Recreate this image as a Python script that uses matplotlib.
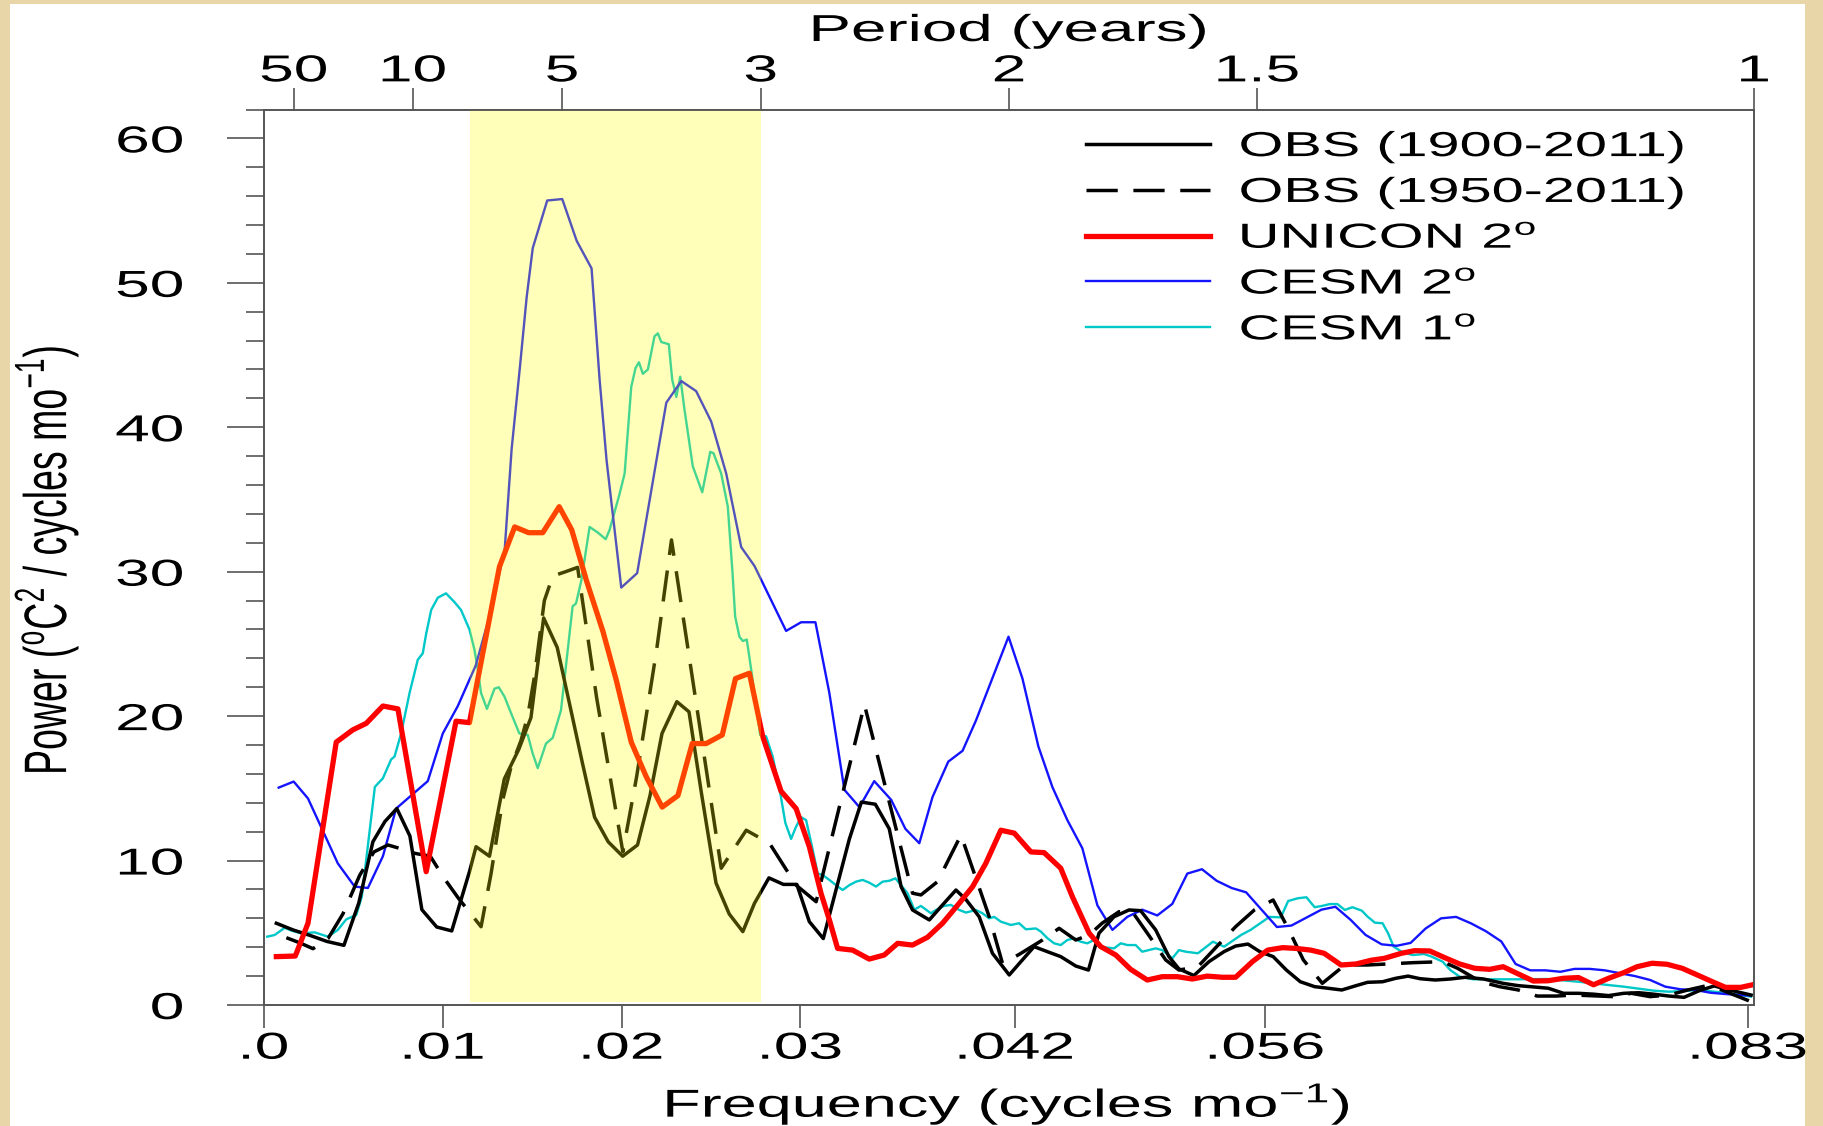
import matplotlib
matplotlib.use("Agg")
import matplotlib.pyplot as plt
import numpy as np
from matplotlib.patches import Rectangle
from matplotlib.patheffects import AbstractPathEffect
from matplotlib.transforms import Affine2D

plt.rcParams["font.family"] = ["Liberation Sans", "DejaVu Sans"]
plt.rcParams["mathtext.fontset"] = "custom"
plt.rcParams["mathtext.rm"] = "Liberation Sans"
plt.rcParams["mathtext.it"] = "Liberation Sans:italic"
plt.rcParams["mathtext.bf"] = "Liberation Sans:bold"

# --- data (frequency in cycles/month, power in degC^2 / cycles mo^-1) ---
obs1900_freq = [
    0.00069, 0.00162, 0.00257, 0.00352, 0.00447, 0.00530, 0.00609, 0.00676, 0.00743, 0.00816,
    0.00883, 0.00966, 0.01050, 0.01149, 0.01186, 0.01261, 0.01344, 0.01425, 0.01493, 0.01564,
    0.01640, 0.01715, 0.01780, 0.01849, 0.01925, 0.02006, 0.02089, 0.02159, 0.02226, 0.02309,
    0.02377, 0.02447, 0.02528, 0.02602, 0.02678, 0.02743, 0.02824, 0.02905, 0.02980, 0.03050,
    0.03128, 0.03199, 0.03274, 0.03341, 0.03419, 0.03497, 0.03563, 0.03627, 0.03721, 0.03795,
    0.03870, 0.03926, 0.04000, 0.04074, 0.04168, 0.04233, 0.04307, 0.04382, 0.04456, 0.04540,
    0.04611, 0.04670, 0.04754, 0.04838, 0.04903, 0.04987, 0.05061, 0.05117, 0.05201, 0.05285,
    0.05370, 0.05434, 0.05503, 0.05570, 0.05644, 0.05718, 0.05796, 0.05876, 0.05950, 0.06028,
    0.06108, 0.06172, 0.06256, 0.06330, 0.06399, 0.06466, 0.06551, 0.06635, 0.06720, 0.06821,
    0.06930, 0.07015, 0.07101, 0.07183, 0.07268, 0.07352, 0.07436, 0.07520, 0.07605, 0.07689,
    0.07771, 0.07858, 0.07942, 0.08027, 0.08111, 0.08196, 0.08317,
]
obs1900_pow = [
    5.66, 5.2, 4.82, 4.4, 4.13, 7.06, 11.3, 12.7, 13.6, 11.7,
    6.6, 5.4, 5.13, 9.23, 10.96, 10.3, 15.65, 17.7, 19.9, 26.8,
    24.75, 20.5, 16.8, 13.0, 11.3, 10.3, 11.08, 14.5, 18.8, 21.0,
    20.3, 14.63, 8.45, 6.3, 5.08, 7.04, 8.8, 8.35, 8.35, 5.77,
    4.6, 7.96, 11.5, 14.05, 13.9, 12.2, 8.2, 6.58, 5.89, 6.93,
    7.96, 7.3, 6.11, 3.58, 2.08, 3.0, 4.04, 3.69, 3.35, 2.7,
    2.42, 4.97, 6.11, 6.58, 6.53, 5.2, 3.35, 2.5, 2.04, 3.0,
    3.7, 4.08, 4.22, 3.69, 3.35, 2.42, 1.61, 1.27, 1.16, 1.04,
    1.34, 1.57, 1.61, 1.85, 2.0, 1.82, 1.73, 1.8, 1.92, 1.8,
    1.5, 1.34, 1.25, 1.16, 0.81, 0.81, 0.75, 0.65, 0.81, 0.85,
    0.75, 0.62, 0.53, 0.99, 1.32, 1.04, 0.69,
]

obs1950_freq = [
    0.00125, 0.00201, 0.00274, 0.00358, 0.00441, 0.00536, 0.00615, 0.00693, 0.00771, 0.00844,
    0.00930, 0.01006, 0.01087, 0.01151, 0.01214, 0.01270, 0.01335, 0.01382, 0.01437, 0.01475,
    0.01512, 0.01568, 0.01615, 0.01687, 0.01754, 0.01860, 0.02007, 0.02084, 0.02196, 0.02279,
    0.02557, 0.02697, 0.02827, 0.02976, 0.03088, 0.03358, 0.03627, 0.03674, 0.03767, 0.03898,
    0.03982, 0.04056, 0.04130, 0.04223, 0.04354, 0.04447, 0.04540, 0.04615, 0.04687, 0.04782,
    0.04856, 0.04950, 0.05043, 0.05117, 0.05223, 0.05328, 0.05434, 0.05539, 0.05644, 0.05728,
    0.05813, 0.05919, 0.06045, 0.06172, 0.06425, 0.06592, 0.06676, 0.06804, 0.06910, 0.07015,
    0.07120, 0.07226, 0.07331, 0.07542, 0.07647, 0.07752, 0.07858, 0.07963, 0.08069, 0.08153,
    0.08317,
]
obs1950_pow = [
    4.66, 4.3, 3.9, 4.6, 6.3, 9.0, 10.6, 11.08, 10.8, 10.5,
    10.3, 8.8, 7.4, 6.4, 5.42, 9.1, 14.2, 16.5, 18.3, 20.0,
    22.7, 28.0, 29.7, 30.0, 30.3, 21.3, 10.6, 15.8, 24.6, 32.2,
    9.47, 12.1, 11.2, 8.3, 7.15, 20.8, 7.74, 7.62, 8.54, 11.77,
    8.77, 6.11, 2.89, 3.5, 4.5, 5.31, 4.5, 4.85, 5.66, 6.46,
    6.46, 4.8, 3.12, 2.42, 2.65, 4.04, 5.42, 6.58, 7.27, 5.3,
    3.12, 1.5, 2.77, 2.77, 2.93, 3.0, 2.54, 1.61, 1.27, 1.04,
    0.62, 0.62, 0.69, 0.58, 0.81, 0.58, 0.69, 1.04, 1.34, 1.04,
    0.23,
]

unicon_freq = [
    0.00069, 0.00175, 0.00246, 0.00404, 0.00497, 0.00572, 0.00665, 0.00749, 0.00907, 0.01074,
    0.01149, 0.01317, 0.01402, 0.01480, 0.01559, 0.01651, 0.01721, 0.01803, 0.01896, 0.01970,
    0.02054, 0.02138, 0.02227, 0.02315, 0.02395, 0.02473, 0.02563, 0.02637, 0.02715, 0.02789,
    0.02892, 0.02976, 0.03050, 0.03116, 0.03162, 0.03208, 0.03292, 0.03385, 0.03469, 0.03544,
    0.03627, 0.03711, 0.03795, 0.03888, 0.03963, 0.04037, 0.04121, 0.04196, 0.04289, 0.04363,
    0.04456, 0.04521, 0.04615, 0.04680, 0.04764, 0.04847, 0.04940, 0.05024, 0.05108, 0.05192,
    0.05275, 0.05360, 0.05434, 0.05528, 0.05613, 0.05697, 0.05771, 0.05855, 0.05929, 0.06024,
    0.06108, 0.06193, 0.06266, 0.06361, 0.06435, 0.06520, 0.06603, 0.06687, 0.06772, 0.06856,
    0.06930, 0.07015, 0.07099, 0.07183, 0.07268, 0.07352, 0.07436, 0.07520, 0.07605, 0.07679,
    0.07763, 0.07847, 0.07932, 0.08016, 0.08101, 0.08174, 0.08259, 0.08318,
]
unicon_pow = [
    3.35, 3.39, 5.66, 18.2, 19.05, 19.5, 20.7, 20.5, 9.23, 19.65,
    19.55, 30.35, 33.1, 32.7, 32.7, 34.5, 32.9, 29.4, 25.85, 22.5,
    18.2, 15.8, 13.7, 14.5, 18.1, 18.1, 18.7, 22.6, 22.97, 18.6,
    14.8, 13.6, 10.96, 7.7, 5.9, 3.92, 3.8, 3.18, 3.46, 4.27,
    4.15, 4.69, 5.66, 7.04, 8.19, 9.81, 12.1, 11.9, 10.6, 10.55,
    9.47, 7.5, 4.97, 4.04, 3.46, 2.47, 1.73, 1.96, 1.96, 1.8,
    2.0, 1.92, 1.92, 3.0, 3.8, 3.97, 3.92, 3.8, 3.58, 2.77,
    2.84, 3.1, 3.23, 3.58, 3.76, 3.74, 3.28, 2.84, 2.54, 2.47,
    2.65, 2.15, 1.66, 1.68, 1.85, 1.9, 1.4, 1.85, 2.24, 2.65,
    2.89, 2.82, 2.54, 2.08, 1.61, 1.22, 1.22, 1.38,
]

cesm2_freq = [
    0.00082, 0.00166, 0.00246, 0.00413, 0.00507, 0.00581, 0.00665, 0.00739, 0.00916, 0.01000,
    0.01084, 0.01184, 0.01263, 0.01346, 0.01385, 0.01430, 0.01469, 0.01503, 0.01584, 0.01668,
    0.01749, 0.01832, 0.01877, 0.01916, 0.01998, 0.02087, 0.02250, 0.02334, 0.02417, 0.02501,
    0.02585, 0.02669, 0.02743, 0.02920, 0.03004, 0.03084, 0.03162, 0.03246, 0.03330, 0.03413,
    0.03508, 0.03587, 0.03665, 0.03739, 0.03827, 0.03907, 0.03982, 0.04073, 0.04164, 0.04242,
    0.04331, 0.04409, 0.04493, 0.04577, 0.04661, 0.04745, 0.04828, 0.04912, 0.04996, 0.05080,
    0.05164, 0.05246, 0.05328, 0.05412, 0.05493, 0.05665, 0.05746, 0.05830, 0.05914, 0.05992,
    0.06077, 0.06161, 0.06251, 0.06335, 0.06413, 0.06497, 0.06583, 0.06667, 0.06751, 0.06835,
    0.06920, 0.07000, 0.07082, 0.07166, 0.07251, 0.07330, 0.07415, 0.07499, 0.07584, 0.07668,
    0.07753, 0.07837, 0.07921, 0.08006, 0.08089, 0.08173, 0.08313,
]
cesm2_pow = [
    15.05, 15.47, 14.3, 9.8, 8.2, 8.1, 10.3, 13.6, 15.5, 18.8,
    20.7, 23.5, 27.0, 31.5, 38.5, 44.0, 49.0, 52.4, 55.7, 55.8,
    52.9, 51.0, 43.3, 37.7, 28.9, 29.9, 41.7, 43.2, 42.5, 40.4,
    36.8, 31.7, 30.4, 25.9, 26.5, 26.5, 21.6, 14.9, 13.7, 15.5,
    14.2, 12.2, 11.2, 14.4, 16.85, 17.6, 19.7, 22.6, 25.5, 22.6,
    17.9, 15.1, 12.8, 10.85, 6.9, 5.2, 6.1, 6.6, 6.2, 7.0,
    9.1, 9.4, 8.6, 8.1, 7.8, 5.4, 5.5, 6.05, 6.6, 6.8,
    5.9, 4.85, 4.2, 4.1, 4.3, 5.3, 6.0, 6.1, 5.65, 5.1,
    4.4, 2.84, 2.4, 2.4, 2.3, 2.5, 2.5, 2.4, 2.2, 2.0,
    1.73, 1.27, 1.09, 1.04, 0.85, 0.76, 0.65,
]

cesm1_freq = [
    0.00018, 0.00060, 0.00116, 0.00153, 0.00208, 0.00283, 0.00358, 0.00413, 0.00460, 0.00516,
    0.00547, 0.00620, 0.00665, 0.00711, 0.00730, 0.00767, 0.00814, 0.00860, 0.00888, 0.00907,
    0.00935, 0.00972, 0.01018, 0.01065, 0.01102, 0.01149, 0.01177, 0.01196, 0.01214, 0.01247,
    0.01289, 0.01313, 0.01345, 0.01382, 0.01428, 0.01475, 0.01503, 0.01531, 0.01577, 0.01615,
    0.01661, 0.01726, 0.01745, 0.01775, 0.01821, 0.01868, 0.01911, 0.01933, 0.01989, 0.02017,
    0.02054, 0.02078, 0.02097, 0.02119, 0.02147, 0.02184, 0.02203, 0.02222, 0.02264, 0.02283,
    0.02306, 0.02328, 0.02352, 0.02398, 0.02451, 0.02496, 0.02514, 0.02557, 0.02594, 0.02620,
    0.02635, 0.02659, 0.02678, 0.02700, 0.02725, 0.02753, 0.02775, 0.02808, 0.02845, 0.02887,
    0.02916, 0.02948, 0.02976, 0.03004, 0.03032, 0.03065, 0.03097, 0.03125, 0.03162, 0.03199,
    0.03236, 0.03274, 0.03311, 0.03348, 0.03385, 0.03423, 0.03460, 0.03497, 0.03531, 0.03563,
    0.03599, 0.03637, 0.03674, 0.03730, 0.03758, 0.03804, 0.03842, 0.03888, 0.03926, 0.03982,
    0.04018, 0.04056, 0.04084, 0.04121, 0.04177, 0.04223, 0.04261, 0.04317, 0.04345, 0.04382,
    0.04419, 0.04456, 0.04493, 0.04531, 0.04568, 0.04605, 0.04642, 0.04670, 0.04754, 0.04792,
    0.04829, 0.04875, 0.04912, 0.04987, 0.05024, 0.05080, 0.05117, 0.05155, 0.05223, 0.05307,
    0.05370, 0.05465, 0.05518, 0.05623, 0.05687, 0.05728, 0.05782, 0.05830, 0.05876, 0.05918,
    0.05961, 0.06003, 0.06045, 0.06087, 0.06140, 0.06172, 0.06213, 0.06256, 0.06287, 0.06318,
    0.06372, 0.06425, 0.06488, 0.06530, 0.06592, 0.06635, 0.06687, 0.06762, 0.07015, 0.07179,
    0.07352, 0.07436, 0.07520, 0.07605, 0.07774, 0.07858, 0.07942, 0.08027, 0.08111, 0.08196,
    0.08317,
]
cesm1_pow = [
    4.73, 4.85, 5.35, 5.15, 4.96, 5.03, 4.73, 5.2, 5.93, 6.23,
    7.5, 15.1, 15.7, 17.0, 17.2, 18.8, 21.6, 23.9, 24.35, 25.7,
    27.35, 28.2, 28.5, 27.9, 27.35, 26.0, 24.6, 23.2, 21.6, 20.5,
    21.9, 22.0, 21.35, 20.2, 18.8, 18.7, 17.4, 16.4, 18.1, 18.5,
    20.4, 27.6, 27.8, 29.4, 33.1, 32.7, 32.25, 32.9, 35.4, 36.8,
    42.8, 44.1, 44.5, 43.7, 44.0, 46.3, 46.5, 45.9, 45.75, 43.3,
    42.1, 43.5, 41.2, 37.3, 35.5, 38.3, 38.2, 36.8, 34.5, 30.0,
    26.9, 25.5, 25.2, 25.3, 23.2, 20.7, 18.7, 18.6, 17.2, 14.7,
    12.6, 11.5, 12.35, 13.0, 12.8, 10.96, 9.1, 9.0, 8.66, 8.3,
    7.96, 8.3, 8.54, 8.66, 8.47, 8.2, 8.54, 8.6, 8.77, 8.3,
    7.74, 6.6, 6.86, 6.35, 6.58, 6.86, 6.93, 6.58, 6.4, 6.58,
    6.35, 6.0, 6.1, 5.77, 5.54, 5.66, 5.24, 5.3, 5.08, 4.62,
    4.27, 4.15, 4.5, 4.62, 4.38, 4.27, 4.5, 4.04, 3.92, 4.27,
    4.15, 4.15, 3.69, 3.92, 3.8, 3.23, 3.8, 3.69, 3.58, 4.38,
    4.04, 4.85, 5.2, 6.1, 6.07, 7.2, 7.39, 7.46, 6.77, 6.86,
    6.99, 6.99, 6.58, 6.77, 6.53, 6.12, 5.7, 5.66, 4.96, 4.04,
    3.62, 3.46, 3.53, 3.35, 3.0, 2.42, 1.96, 1.78, 1.78, 1.8,
    1.61, 1.5, 1.38, 1.27, 0.99, 0.92, 0.97, 1.04, 0.92, 0.8,
    0.58,
]

# shaded 3-7 yr band
band_lo, band_hi = 0.0115, 1 / 36

bottom_ticks = [0.0, 0.01, 0.02, 0.03, 0.042, 0.056, 0.083]
bottom_labels = [".0", ".01", ".02", ".03", ".042", ".056", ".083"]
period_years = [50, 10, 5, 3, 2, 1.5, 1]
period_labels = ["50", "10", "5", "3", "2", "1.5", "1"]


class Stretch(AbstractPathEffect):
    """Widen glyphs horizontally (the original figure uses a wide font)."""

    def __init__(self, sx, anchor="center"):
        super().__init__()
        self.sx = sx
        self.anchor = anchor

    def draw_path(self, renderer, gc, tpath, affine, rgbFace=None):
        ext = tpath.get_extents(affine)
        x0 = {"left": ext.x0, "center": 0.5 * (ext.x0 + ext.x1), "right": ext.x1}[self.anchor]
        widen = Affine2D().translate(-x0, 0).scale(self.sx, 1).translate(x0, 0)
        renderer.draw_path(gc, tpath, affine + widen, rgbFace)


W, H = 1823, 1126
fig = plt.figure(figsize=(W / 100, H / 100), dpi=100, facecolor="#e8d5a8")
fig.add_artist(Rectangle((10 / W, 0), 1795 / W, 1122 / H, transform=fig.transFigure,
                         facecolor="white", edgecolor="none", zorder=-1))
ax = fig.add_axes([264 / W, 121 / H, 1490 / W, 895.5 / H])

dash = (0, (9, 4.5))
ax.plot(obs1900_freq, obs1900_pow, color="black", lw=2.5, zorder=2.3, label="OBS (1900-2011)")
ax.plot(obs1950_freq, obs1950_pow, color="black", lw=2.5, ls=dash, zorder=2.2,
        label="OBS (1950-2011)")
ax.plot(unicon_freq, unicon_pow, color="#ff0000", lw=3.8, zorder=2.4, label=r"UNICON 2$^{\mathrm{o}}$")
ax.plot(cesm2_freq, cesm2_pow, color="#1414ff", lw=1.7, zorder=2.1, label=r"CESM 2$^{\mathrm{o}}$")
ax.plot(cesm1_freq, cesm1_pow, color="#00c8c8", lw=1.7, zorder=2.0, label=r"CESM 1$^{\mathrm{o}}$")

ax.axvspan(band_lo, band_hi, ymin=0.003, ymax=1, facecolor="yellow", alpha=0.27, lw=0, zorder=3)

ax.set_xlim(0, 1 / 12)
ax.set_ylim(0, 62)

axis_col = "#555555"
for sp in ax.spines.values():
    sp.set_color(axis_col)
    sp.set_linewidth(1.2)

ax.set_xticks(bottom_ticks, bottom_labels)
ax.set_yticks(np.arange(0, 61, 10))
ax.set_yticks(np.arange(0, 63, 2), minor=True)
ax.tick_params(axis="both", which="both", direction="out", color=axis_col, width=1.2,
               right=False, top=False)
ax.tick_params(axis="y", which="major", length=27, pad=31, labelsize=27)
ax.tick_params(axis="y", which="minor", length=13)
ax.tick_params(axis="x", which="major", length=16.5, pad=2, labelsize=27)

ax_top = ax.twiny()
ax_top.set_xlim(ax.get_xlim())
ax_top.set_xticks([1 / (12 * p) for p in period_years], period_labels)
ax_top.tick_params(axis="x", direction="out", length=16, pad=-1.5, labelsize=27,
                   color=axis_col, width=1.2)
for sp in ax_top.spines.values():
    sp.set_color(axis_col)
    sp.set_linewidth(1.2)

for lab in ax.get_xticklabels() + ax_top.get_xticklabels():
    lab.set_path_effects([Stretch(1.66, "center")])
for lab in ax.get_yticklabels():
    lab.set_path_effects([Stretch(1.66, "right")])

leg = ax.legend(loc="upper left", bbox_to_anchor=(0.552, 0.977), frameon=False, fontsize=25,
                handlelength=3.57, handletextpad=0.84, labelspacing=0.37,
                borderaxespad=0, borderpad=0)
for t in leg.get_texts():
    t.set_path_effects([Stretch(1.66, "left")])

t = fig.text(1009 / W, 1 - 41 / H, "Period (years)", ha="center", va="baseline", fontsize=27)
t.set_path_effects([Stretch(1.7, "center")])
t = fig.text(1007 / W, 9 / H, r"Frequency (cycles mo$^{-1}$)", ha="center", va="baseline",
             fontsize=28)
t.set_path_effects([Stretch(1.62, "center")])
t = fig.text(46 / W, 1 - 560 / H, r"Power ($^{\mathrm{o}}$C$^{2}$ / cycles mo$^{-1}$)",
             rotation=90, ha="center", va="center", fontsize=27)
t.set_path_effects([Stretch(1.6, "center")])

fig.savefig("out.png", dpi=100, facecolor=fig.get_facecolor())
